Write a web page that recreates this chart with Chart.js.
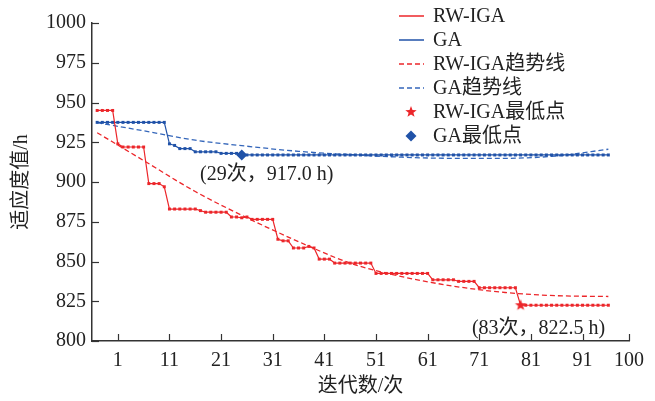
<!DOCTYPE html>
<html>
<head>
<meta charset="utf-8">
<script src="https://cdn.jsdelivr.net/npm/chart.js"></script>
<style>
  html, body { margin: 0; padding: 0; background: #fff; }
  #wrap { width: 655px; height: 401px; }
</style>
</head>
<body>
<div id="wrap"><canvas id="chartLine" width="655" height="401"></canvas></div>
<script>
// iteration values 1..100
const rwIga = [
  945, 945, 945, 945, 924, 922, 922, 922, 922, 922,
  899, 899, 899, 897, 883, 883, 883, 883, 883, 883,
  882, 881, 881, 881, 881, 881, 878, 878, 877.5, 878,
  876.5, 876.5, 876.5, 876.5, 876.5, 864, 863, 863, 858.5, 858.5,
  858.5, 859.5, 858.5, 851.5, 851.5, 851.5, 849, 849, 849, 849,
  849, 849, 849, 849, 842.5, 842.5, 842.5, 842.5, 842.5, 842.5,
  842.5, 842.5, 842.5, 842.5, 842.5, 838.5, 838.5, 838.5, 838.5, 838.5,
  837.5, 837.5, 837.5, 837.5, 833.5, 833.5, 833.5, 833.5, 833.5, 833.5,
  833.5, 833.5, 822.5, 822.5, 822.5, 822.5, 822.5, 822.5, 822.5, 822.5,
  822.5, 822.5, 822.5, 822.5, 822.5, 822.5, 822.5, 822.5, 822.5, 822.5
];
const ga = [
  937.5, 937.5, 937.5, 937.5, 937.5, 937.5, 937.5, 937.5, 937.5, 937.5,
  937.5, 937.5, 937.5, 937.5, 924, 923, 921, 921, 921, 919,
  919, 919, 919, 919, 918, 918, 918, 918, 917, 917,
  917, 917, 917, 917, 917, 917, 917, 917, 917, 917,
  917, 917, 917, 917, 917, 917, 917, 917, 917, 917,
  917, 917, 917, 917, 917, 917, 917, 917, 917, 917,
  917, 917, 917, 917, 917, 917, 917, 917, 917, 917,
  917, 917, 917, 917, 917, 917, 917, 917, 917, 917,
  917, 917, 917, 917, 917, 917, 917, 917, 917, 917,
  917, 917, 917, 917, 917, 917, 917, 917, 917, 917
];

// trend lines, sampled every 10 iterations
const trendIter = [1, 10, 20, 30, 40, 50, 60, 70, 80, 90, 100];
const rwTrend = [931, 913.5, 894, 877.5, 862.5, 849, 840.5, 834.5, 830.5, 828.5, 828];
const gaTrend = [937.3, 932.2, 926.3, 922.5, 919.3, 917.2, 915.6, 914.9, 914.9, 916.4, 920.6];

// minimum points
const rwMinIter = 83, rwMinVal = 822.5;
const gaMinIter = 29, gaMinVal = 917.0;

// x axis tick positions and labels as printed
const xTickPos = [5, 15, 25, 35, 45, 55, 65, 75, 85, 95, 104];
const xTickLabels = ["1", "11", "21", "31", "41", "51", "61", "71", "81", "91", "100"];
const yTicks = [800, 825, 850, 875, 900, 925, 950, 975, 1000];

const red = "rgb(236,38,42)";
const blue = "rgb(32,82,168)";
const blueTrend = "rgb(52,102,186)";
const FONT = "'Liberation Serif', 'Times New Roman', 'Noto Sans CJK SC', serif";

Chart.defaults.font.family = FONT;
Chart.defaults.font.size = 20;
Chart.defaults.color = "#222";

function makeStar(r, color) {
  const c = document.createElement("canvas");
  const s = Math.ceil(r * 2 + 2);
  c.width = s; c.height = s;
  const g = c.getContext("2d");
  g.fillStyle = color;
  g.beginPath();
  for (let i = 0; i < 10; i++) {
    const rad = i % 2 == 0 ? r : r * 0.42;
    const a = -Math.PI / 2 + i * Math.PI / 5;
    const px = s / 2 + rad * Math.cos(a), py = s / 2 + rad * Math.sin(a);
    if (i == 0) g.moveTo(px, py); else g.lineTo(px, py);
  }
  g.closePath();
  g.fill();
  return c;
}
const star = makeStar(6, red);

const iters = rwIga.map((v, i) => i + 1);

const data = {
  datasets: [
    {
      label: "RW-IGA",
      data: iters.map((k, i) => ({ x: k, y: rwIga[i] })),
      borderColor: red, backgroundColor: red, borderWidth: 1.2,
      pointStyle: "rect", pointRadius: 2.1, pointBorderWidth: 0,
      order: 1
    },
    {
      label: "GA",
      data: iters.map((k, i) => ({ x: k, y: ga[i] })),
      borderColor: blue, backgroundColor: blue, borderWidth: 1.2,
      pointStyle: "rect", pointRadius: 2.1, pointBorderWidth: 0,
      order: 1
    },
    {
      label: "RW-IGA趋势线",
      data: trendIter.map((k, i) => ({ x: k, y: rwTrend[i] })),
      borderColor: red, borderWidth: 1.3, borderDash: [5, 3],
      pointRadius: 0, cubicInterpolationMode: "monotone",
      order: 2
    },
    {
      label: "GA趋势线",
      data: trendIter.map((k, i) => ({ x: k, y: gaTrend[i] })),
      borderColor: blueTrend, borderWidth: 1.3, borderDash: [5, 3],
      pointRadius: 0, cubicInterpolationMode: "monotone",
      order: 2
    },
    {
      label: "RW-IGA最低点",
      data: [{ x: rwMinIter, y: rwMinVal }],
      showLine: false, pointStyle: star, pointRadius: 6,
      backgroundColor: red, borderColor: red,
      order: 0
    },
    {
      label: "GA最低点",
      data: [{ x: gaMinIter, y: gaMinVal }],
      showLine: false, pointStyle: "rectRot", pointRadius: 5.5,
      backgroundColor: blue, borderColor: blue, pointBorderWidth: 0,
      order: 0
    }
  ]
};

// inward tick marks
const axisTicks = {
  id: "axisTicks",
  afterDraw(chart) {
    const { ctx, chartArea: { left, bottom }, scales: { x, y } } = chart;
    ctx.save();
    ctx.strokeStyle = "#333";
    ctx.lineWidth = 1.2;
    y.ticks.forEach(t => {
      const py = Math.round(y.getPixelForValue(t.value)) + 0.5;
      ctx.beginPath(); ctx.moveTo(left, py); ctx.lineTo(left + 7, py); ctx.stroke();
    });
    x.ticks.forEach(t => {
      const px = Math.round(x.getPixelForValue(t.value)) + 0.5;
      ctx.beginPath(); ctx.moveTo(px, bottom); ctx.lineTo(px, bottom - 7); ctx.stroke();
    });
    ctx.restore();
  }
};

// legend drawn in the upper right
const cornerLegend = {
  id: "cornerLegend",
  afterDraw(chart) {
    const ctx = chart.ctx;
    const x0 = 399, x1 = 424, tx = 433, y0 = 16, dy = 24;
    ctx.save();
    ctx.font = "20px " + FONT;
    ctx.textBaseline = "middle";
    ctx.fillStyle = "#222";
    chart.data.datasets.forEach((ds, i) => {
      const yy = y0 + i * dy;
      if (ds.showLine === false) {
        const cx = (x0 + x1) / 2 - 0.5;
        if (ds.pointStyle instanceof HTMLCanvasElement) {
          ctx.drawImage(ds.pointStyle, cx - ds.pointStyle.width / 2, yy - ds.pointStyle.height / 2);
        } else {
          ctx.fillStyle = ds.backgroundColor;
          ctx.beginPath();
          ctx.moveTo(cx, yy - 5.5); ctx.lineTo(cx + 5.5, yy);
          ctx.lineTo(cx, yy + 5.5); ctx.lineTo(cx - 5.5, yy);
          ctx.closePath(); ctx.fill();
        }
      } else {
        ctx.strokeStyle = ds.borderColor;
        ctx.lineWidth = 1.5;
        ctx.setLineDash(ds.borderDash || []);
        ctx.beginPath(); ctx.moveTo(x0, yy); ctx.lineTo(x1, yy); ctx.stroke();
        ctx.setLineDash([]);
      }
      ctx.fillStyle = "#222";
      ctx.fillText(ds.label, tx, yy + 1);
    });
    ctx.restore();
  }
};

// labels next to the minimum points
const minLabels = {
  id: "minLabels",
  afterDraw(chart) {
    const { ctx, scales: { x, y } } = chart;
    ctx.save();
    ctx.font = "20px " + FONT;
    ctx.fillStyle = "#222";
    ctx.textAlign = "center";
    ctx.textBaseline = "middle";
    ctx.fillText("(" + gaMinIter + "次，" + gaMinVal.toFixed(1) + " h)",
      x.getPixelForValue(gaMinIter) + 25, y.getPixelForValue(gaMinVal) + 20);
    ctx.fillText("(" + rwMinIter + "次，" + rwMinVal.toFixed(1) + " h)",
      x.getPixelForValue(rwMinIter) + 18, y.getPixelForValue(rwMinVal) + 24);
    ctx.restore();
  }
};

const config = {
  type: "line",
  data,
  options: {
    responsive: false,
    animation: false,
    devicePixelRatio: 1,
    layout: { padding: { top: 23, right: 26, left: 0, bottom: 0 } },
    plugins: { legend: { display: false }, tooltip: { enabled: false } },
    scales: {
      x: {
        type: "linear", min: 0, max: 104,
        afterBuildTicks: s => { s.ticks = xTickPos.map(v => ({ value: v })); },
        afterFit: s => { s.height = 60; },
        ticks: { padding: 8, maxRotation: 0, autoSkip: false,
          callback: (v, i) => xTickLabels[i] },
        grid: { display: true, drawOnChartArea: false, drawTicks: false },
        border: { display: true, color: "#333", width: 1.5 },
        title: { display: true, text: "迭代数/次", padding: { top: 0, bottom: 2 } }
      },
      y: {
        min: 800, max: 1000,
        afterBuildTicks: s => { s.ticks = yTicks.map(v => ({ value: v })); },
        afterFit: s => { s.width = 92; },
        ticks: { padding: 6, callback: v => String(v) },
        grid: { display: true, drawOnChartArea: false, drawTicks: false },
        border: { display: true, color: "#333", width: 1.5 },
        title: { display: true, text: "适应度值/h", padding: { top: 10, bottom: 0 } }
      }
    }
  },
  plugins: [axisTicks, cornerLegend, minLabels]
};

new Chart(document.getElementById("chartLine"), config);
</script>
</body>
</html>
